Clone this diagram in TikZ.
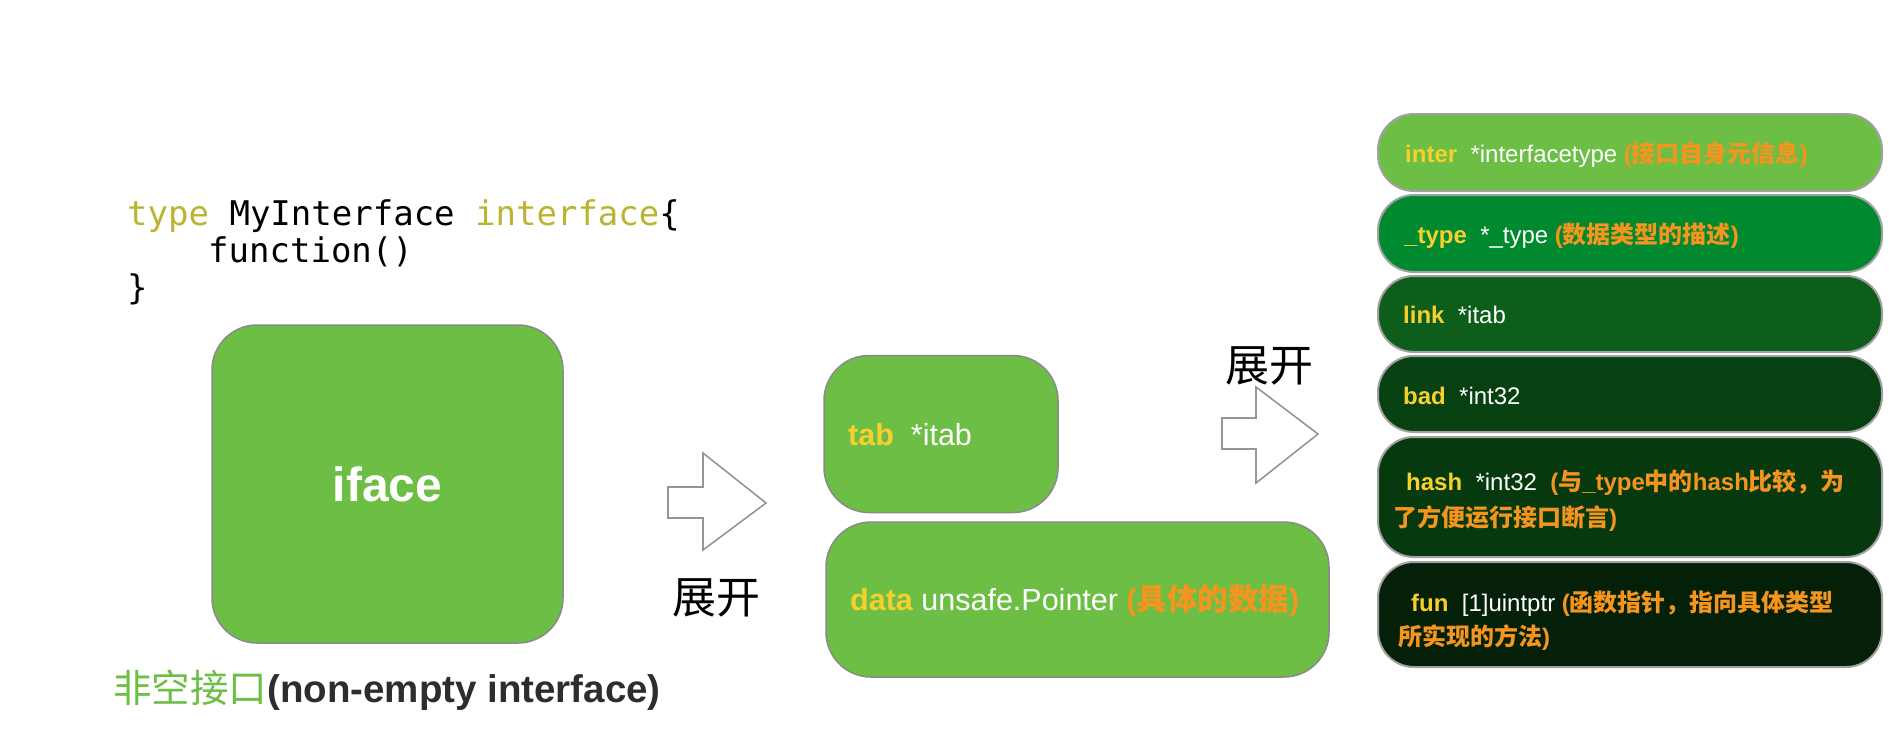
\documentclass[tikz,border=0pt]{standalone}
\usepackage{fontspec}
\setmainfont{Liberation Sans}
\newfontfamily\cjkfont{Noto Sans CJK SC}
\newfontfamily\codefont{DejaVu Sans Mono}
\definecolor{boxgreen}{RGB}{109,190,69}
\definecolor{boxborder}{RGB}{138,138,138}
\definecolor{kw}{RGB}{248,208,46}
\definecolor{note}{RGB}{245,148,30}
\definecolor{codekw}{RGB}{185,181,48}
\definecolor{labeldark}{RGB}{45,45,48}
\definecolor{arrowgray}{RGB}{150,150,150}
\definecolor{gtwo}{RGB}{0,137,46}
\definecolor{gthree}{RGB}{13,94,27}
\definecolor{gfour}{RGB}{7,64,17}
\definecolor{gfive}{RGB}{6,57,14}
\definecolor{gsix}{RGB}{4,32,9}
\newcommand\zhtxt[1]{{\cjkfont #1}}
\newcommand\kwd[1]{\textcolor{kw}{\bfseries #1}}
\newcommand\notet[1]{\textcolor{note}{\bfseries #1}}
\tikzset{
  gbox/.style={draw=boxborder, line width=1.5pt, fill=boxgreen, rounded corners=45pt, inner sep=0pt},
  rbox/.style={draw=boxborder!80, line width=2pt, rounded corners=36pt, inner sep=0pt, minimum width=504pt},
  codeline/.style={anchor=base west, inner sep=0pt, font=\codefont\fontsize{34}{37}\selectfont},
  mtext/.style={anchor=base west, inner sep=0pt, text=white, font=\fontsize{30.5}{36}\selectfont},
  rtext/.style={anchor=base west, inner sep=0pt, text=white, font=\fontsize{24}{29}\selectfont},
  expandarrow/.style={draw=arrowgray, line width=1.6pt, fill=white, line join=miter},
  expandlabel/.style={inner sep=0pt, font=\cjkfont\fontsize{44}{50}\selectfont}
}
\begin{document}
\begin{tikzpicture}[x=1pt,y=-1pt]
\useasboundingbox (0,0) rectangle (1894,740);
\fill[white] (0,0) rectangle (1894,740);

% code
\node[codeline] (code1) at (127,225) {\textcolor{codekw}{type} MyInterface \textcolor{codekw}{interface}\{};
\node[codeline] (code2) at (208,262) {function()};
\node[codeline] (code3) at (127,299) {\}};

% iface
\node[gbox, minimum width=351pt, minimum height=318pt] (iface) at (387.5,484) {};
\node[inner sep=0pt, text=white, font=\bfseries\fontsize{48}{56}\selectfont] (ifacetxt) at (iface.center) {iface};
\node[anchor=base west, inner sep=0pt, font=\fontsize{38.5}{44}\selectfont] (label) at (113,702)
  {\textcolor{boxgreen}{\cjkfont 非空接口}\textcolor{labeldark}{\bfseries (non-empty interface)}};

% expand arrow 1
\coordinate (a1) at (668,502.5);
\draw[expandarrow] (a1) ++(0,-15.5) -- ++(35,0) -- ++(0,-34) -- (766,503) -- (703,550) -- ++(0,-32) -- ++(-35,0) -- cycle;
\node[expandlabel] (exp1) at (716,598) {展开};

% middle boxes
\node[gbox, minimum width=234pt, minimum height=157pt] (tab) at (941,434) {};
\node[gbox, minimum width=503pt, minimum height=155pt] (data) at (1077.5,599.5) {};
\node[mtext] (tabtxt) at (848,445) {\kwd{tab}\ \ *itab};
\node[mtext] (datatxt) at (850,610) {\kwd{data} unsafe.Pointer \notet{(\zhtxt{具体的数据})}};

% expand arrow 2
\coordinate (a2) at (1222,433.5);
\draw[expandarrow] (a2) ++(0,-15.5) -- ++(34,0) -- ++(0,-31) -- (1318,434) -- (1256,483) -- ++(0,-34) -- ++(-34,0) -- cycle;
\node[expandlabel] (exp2) at (1269,366) {展开};

% right column
\node[rbox, fill=boxgreen, minimum height=77pt] (inter) at (1630,152.5) {};
\node[rbox, fill=gtwo, minimum height=77pt] (typef) at (1630,233.5) {};
\node[rbox, fill=gthree, minimum height=76pt] (link) at (1630,314) {};
\node[rbox, fill=gfour, minimum height=76pt] (bad) at (1630,394) {};
\node[rbox, fill=gfive, minimum height=120pt] (hash) at (1630,497) {};
\node[rbox, fill=gsix, minimum height=105pt] (fun) at (1630,614.5) {};

\node[rtext] (intertxt) at (1405,162) {\kwd{inter}\ \ *interfacetype \notet{(\zhtxt{接口自身元信息})}};
\node[rtext] (typetxt) at (1404,243) {\kwd{\_type}\ \ *\_type \notet{(\zhtxt{数据类型的描述})}};
\node[rtext] (linktxt) at (1403,323) {\kwd{link}\ \ *itab};
\node[rtext] (badtxt) at (1403,404) {\kwd{bad}\ \ *int32};
\node[rtext] (hashtxta) at (1406,490) {\kwd{hash}\ \ *int32\ \ \notet{(\zhtxt{与}\_type\zhtxt{中的}hash\zhtxt{比较，为}}};
\node[rtext] (hashtxtb) at (1393,526) {\notet{\zhtxt{了方便运行接口断言})}};
\node[rtext] (funtxta) at (1411,611) {\kwd{fun}\ \ [1]uintptr \notet{(\zhtxt{函数指针，指向具体类型}}};
\node[rtext] (funtxtb) at (1398,645) {\notet{\zhtxt{所实现的方法})}};
\end{tikzpicture}
\end{document}
